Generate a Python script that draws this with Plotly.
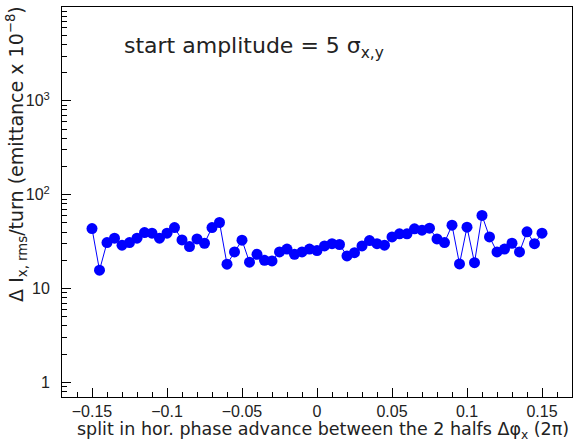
import plotly.graph_objects as go

phase_split = [-0.15 + 0.005 * i for i in range(61)]
phase_split = [round(v, 3) for v in phase_split]

delta_I = [
    43.6, 15.7, 30.9, 34.4, 29.0, 30.9, 34.4, 39.5, 38.9, 34.4,
    38.9, 44.7, 33.0, 28.0, 33.8, 30.4, 44.7, 50.6, 18.2, 24.6,
    32.8, 19.1, 23.2, 20.0, 19.7, 24.6, 26.4, 23.2, 24.6, 26.4,
    25.4, 28.5, 30.1, 29.5, 22.3, 24.1, 28.5, 32.5, 30.1, 29.0,
    35.5, 38.3, 38.3, 43.3, 41.9, 44.0, 33.8, 30.9, 47.4, 18.3,
    45.1, 18.9, 60.1, 35.5, 24.6, 26.4, 30.4, 24.6, 40.2, 30.1,
    38.9,
]

y_tickvals = [1, 10, 100, 1000]
y_ticktext = ["1", "10", "10<sup>2</sup>", "10<sup>3</sup>"]
x_tickvals = [-0.15, -0.1, -0.05, 0, 0.05, 0.1, 0.15]
x_ticktext = ["\u22120.15", "\u22120.1", "\u22120.05", "0", "0.05", "0.1", "0.15"]

FONT = "Liberation Sans, Arial, sans-serif"
WIDE = "DejaVu Sans, sans-serif"

fig = go.Figure()
fig.add_trace(go.Scatter(
    x=phase_split, y=delta_I, mode="lines+markers",
    line=dict(color="rgb(0,0,255)", width=1),
    marker=dict(color="rgb(0,0,255)", size=11),
    showlegend=False,
))

fig.update_layout(
    width=573, height=443,
    margin=dict(l=62, r=1, t=7, b=46),
    paper_bgcolor="white", plot_bgcolor="white",
    font=dict(family=FONT, size=16, color="black"),
    xaxis=dict(
        range=[-0.17, 0.17], showgrid=False, zeroline=False,
        showline=True, linecolor="black", linewidth=1, mirror=True,
        ticks="inside", ticklen=9, tickwidth=1, tickcolor="black",
        tickvals=x_tickvals, ticktext=x_ticktext,
        minor=dict(ticks="inside", ticklen=5, dtick=0.01, tick0=0, tickcolor="black", showgrid=False),
        ticklabelstandoff=0,
        tickfont=dict(size=16, color="#222"),
    ),
    yaxis=dict(
        type="log", range=[-0.155, 4.0], showgrid=False, zeroline=False,
        showline=True, linecolor="black", linewidth=1, mirror=True,
        ticks="inside", ticklen=9, tickwidth=1, tickcolor="black",
        tickvals=y_tickvals, ticktext=y_ticktext,
        minor=dict(ticks="inside", ticklen=5, dtick="D1", tickcolor="black", showgrid=False),
        ticklabelstandoff=8,
        tickfont=dict(size=16, color="#222"),
    ),
    annotations=[
        dict(text="start amplitude = 5 \u03c3<sub>x,y</sub>", xref="paper", yref="paper",
             x=0.117, y=0.897, xanchor="left", yanchor="middle", showarrow=False,
             font=dict(size=22, family=WIDE, color="#222")),
        dict(text="split in hor. phase advance between the 2 halfs \u0394\u03c6<sub>x</sub> (2\u03c0)",
             xref="paper", yref="paper", x=0.998, y=-0.087, xanchor="right", yanchor="middle",
             showarrow=False, font=dict(size=17.5, family=WIDE, color="#222")),
        dict(text="\u0394 I<sub>x, rms</sub>/turn (emittance x 10<sup>\u22128</sup>)",
             xref="paper", yref="paper", x=-0.089, y=1.007, xanchor="center", yanchor="top",
             textangle=-90, showarrow=False, font=dict(size=19, family=WIDE, color="#222")),
    ],
)

fig.write_html("out.html")
